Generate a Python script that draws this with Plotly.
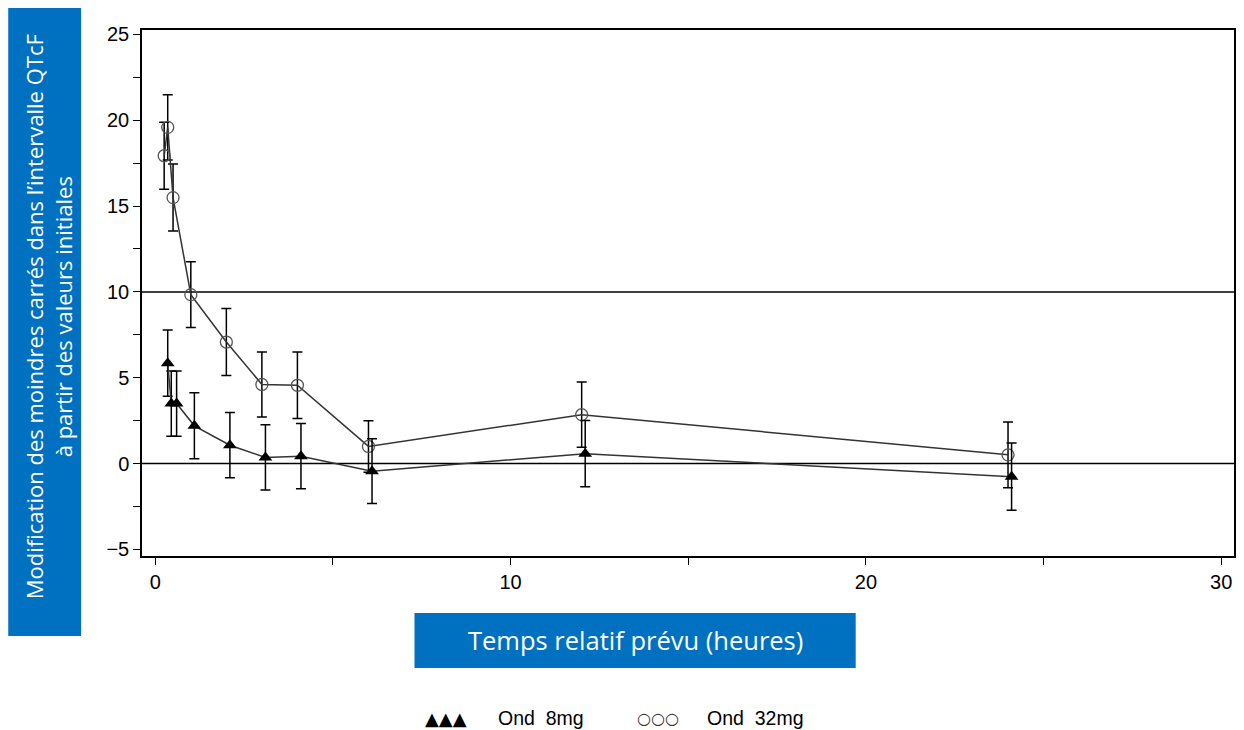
import plotly.graph_objects as go

# ---- data ----
time_32 = [0.25, 0.35, 0.5, 1, 2, 3, 4, 6, 12, 24]
val_32 = [17.93, 19.58, 15.49, 9.84, 7.08, 4.61, 4.56, 1.0, 2.85, 0.51]
se_32 = [1.95, 1.9, 1.95, 1.91, 1.95, 1.89, 1.94, 1.5, 1.9, 1.91]

time_8 = [0.35, 0.45, 0.6, 1.1, 2.1, 3.1, 4.1, 6.1, 12.1, 24.1]
val_8 = [5.85, 3.5, 3.5, 2.2, 1.07, 0.36, 0.43, -0.44, 0.58, -0.76]
se_8 = [1.93, 1.9, 1.9, 1.92, 1.9, 1.9, 1.9, 1.89, 1.93, 1.96]

ref_lines = [0, 10]
x_ticks = [0, 10, 20, 30]
y_ticks = [-5, 0, 5, 10, 15, 20, 25]

y_title = "Modification des moindres carrés dans l’intervalle QTcF<br>à partir des valeurs initiales"
x_title = "Temps relatif prévu (heures)"
leg_8 = "Ond  8mg"
leg_32 = "Ond  32mg"

# ---- layout geometry (pixels) ----
FW, FH = 1244, 730
L, R, T, B = 142, 1236, 30, 556
W, H = R - L, B - T

def px(x):
    return (x - L) / W

def py(y):
    return 1 - (y - T) / H

BLUE = "#0070C0"
SANS = "Liberation Sans, Arial, sans-serif"

fig = go.Figure()

fig.add_trace(go.Scatter(
    x=time_32, y=val_32, mode="lines+markers", name="Ond 32mg",
    line=dict(color="#333333", width=1.5),
    marker=dict(symbol="circle-open", size=12, color="#555555", line=dict(width=1.3)),
    error_y=dict(type="data", array=se_32, color="black", thickness=1.5, width=5),
    showlegend=False,
))
fig.add_trace(go.Scatter(
    x=time_8, y=val_8, mode="lines+markers", name="Ond 8mg",
    line=dict(color="#333333", width=1.5),
    marker=dict(symbol="triangle-up", size=12, color="black"),
    error_y=dict(type="data", array=se_8, color="black", thickness=1.5, width=5),
    showlegend=False,
))

shapes = []
for r in ref_lines:
    shapes.append(dict(type="line", xref="paper", x0=0, x1=1, yref="y", y0=r, y1=r,
                       line=dict(color="black", width=1.5), layer="below"))
# blue boxes for titles
shapes.append(dict(type="rect", xref="paper", yref="paper",
                   x0=px(8), x1=px(81), y0=py(636), y1=py(8),
                   fillcolor=BLUE, line=dict(width=0)))
shapes.append(dict(type="rect", xref="paper", yref="paper",
                   x0=px(415), x1=px(857), y0=py(668), y1=py(613),
                   fillcolor=BLUE, line=dict(width=0)))

annotations = [
    dict(text=y_title, xref="paper", yref="paper", x=px(48), y=py(317),
         textangle=-90, showarrow=False, align="center",
         font=dict(family="Open Sans", size=22, color="white"),
         xanchor="center", yanchor="middle"),
    dict(text=x_title, xref="paper", yref="paper", x=px(636), y=py(640),
         showarrow=False, font=dict(family="Open Sans", size=25.5, color="white"),
         xanchor="center", yanchor="middle"),
    dict(text="▲▲▲", xref="paper", yref="paper", x=px(447), y=py(718),
         showarrow=False, font=dict(family="DejaVu Sans", size=18, color="black"),
         xanchor="center", yanchor="middle"),
    dict(text=leg_8, xref="paper", yref="paper", x=px(497), y=py(718),
         showarrow=False, font=dict(family=SANS, size=19.5, color="black"),
         xanchor="left", yanchor="middle"),
    dict(text="○○○", xref="paper", yref="paper", x=px(659), y=py(718),
         showarrow=False, font=dict(family="DejaVu Sans", size=16, color="#333333"),
         xanchor="center", yanchor="middle"),
    dict(text=leg_32, xref="paper", yref="paper", x=px(706), y=py(718),
         showarrow=False, font=dict(family=SANS, size=19.5, color="black"),
         xanchor="left", yanchor="middle"),
]

fig.update_layout(
    width=FW, height=FH,
    margin=dict(l=L, r=FW - R, t=T, b=FH - B),
    paper_bgcolor="white", plot_bgcolor="white",
    shapes=shapes, annotations=annotations,
    font=dict(family=SANS, size=20, color="black"),
    xaxis=dict(range=[-0.374, 30.36], tickvals=x_ticks, ticks="outside", ticklen=7,
               tickwidth=1.3, tickcolor="black", showgrid=False, zeroline=False,
               showline=True, linecolor="black", linewidth=1.5, mirror=True,
               minor=dict(dtick=5, ticks="outside", ticklen=7, tickwidth=1.3, tickcolor="black"),
               tickfont=dict(family=SANS, size=20)),
    yaxis=dict(range=[-5.38, 25.25], tickvals=y_ticks, ticks="outside", ticklen=7,
               tickwidth=1.3, tickcolor="black", showgrid=False, zeroline=False,
               showline=True, linecolor="black", linewidth=1.5, mirror=True,
               minor=dict(dtick=2.5, ticks="outside", ticklen=7, tickwidth=1.3, tickcolor="black"),
               tickfont=dict(family=SANS, size=20)),
)

fig.write_html("out.html")
